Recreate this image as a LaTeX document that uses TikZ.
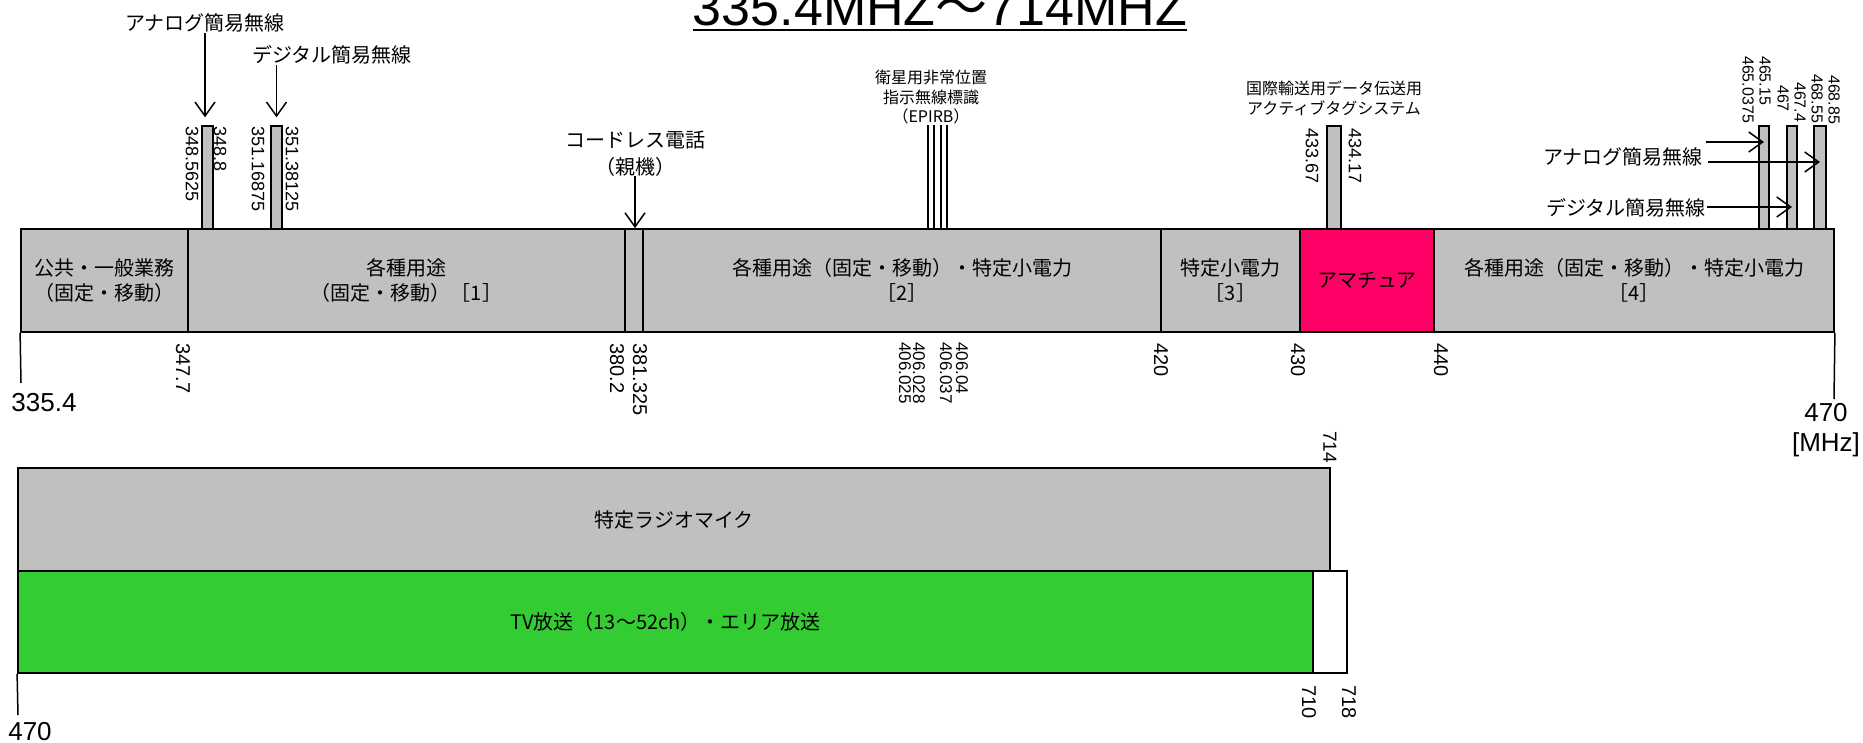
\documentclass[tikz,border=0pt]{standalone}
\usepackage{fontspec}
\setmainfont{Liberation Sans}
\newfontfamily\jp{Noto Sans CJK JP}
\usetikzlibrary{arrows.meta}
\definecolor{bandgrey}{HTML}{C0C0C0}
\definecolor{amateur}{HTML}{FF0066}
\definecolor{tvgreen}{HTML}{33CC33}
\begin{document}
\begin{tikzpicture}[x=1pt,y=-1pt,
  band/.style={draw, line width=1.8pt, fill=bandgrey, inner sep=0pt, minimum height=103pt, align=center, font=\jp\fontsize{20pt}{25pt}\selectfont},
  spike/.style={draw, line width=1.4pt, fill=bandgrey, inner sep=0pt, minimum height=103pt},
  jlab/.style={inner sep=0pt, align=center, font=\jp\fontsize{20pt}{27pt}\selectfont},
  slab/.style={inner sep=0pt, align=center, font=\jp\fontsize{16pt}{19.5pt}\selectfont},
  vnum/.style={rotate=-90, anchor=west, inner sep=0pt, font=\fontsize{18pt}{18pt}\selectfont},
  vnums/.style={vnum, font=\fontsize{16pt}{16pt}\selectfont},
  vnumb/.style={vnum, font=\fontsize{20pt}{20pt}\selectfont},
  vnumm/.style={vnum, font=\fontsize{17pt}{17pt}\selectfont},
  numbig/.style={inner sep=0pt, font=\fontsize{26pt}{26pt}\selectfont},
  tick/.style={line width=1.5pt},
  thin/.style={line width=1.3pt},
  arr/.style={line width=1.5pt, -{Straight Barb[length=14pt,width=20pt]}}
]
\useasboundingbox (0,0) rectangle (1863,742);

% title
\node[anchor=base, inner sep=0pt, font=\fontsize{52pt}{52pt}\selectfont] (title) at (940,25) {335.4MHZ{\jp ～}714MHZ};
\draw[line width=2.5pt] ([yshift=-5pt]title.base west) -- ([yshift=-5pt]title.base east);

% spikes
\node[spike, minimum width=11pt] (s1) at (207.5,177.5) {};
\node[spike, minimum width=11pt] (s2) at (276.5,177.5) {};
\node[spike, minimum width=14pt] (s3) at (1334,177.5) {};
\node[spike, minimum width=10pt] (s4) at (1764,177.5) {};
\node[spike, minimum width=10pt] (s5) at (1792,177.5) {};
\node[spike, minimum width=12pt] (s6) at (1820,177.5) {};

% EPIRB lines
\draw[thin] (928,125) -- (928,229);
\draw[thin] (934,125) -- (934,229);
\draw[thin] (941,125) -- (941,229);
\draw[thin] (947,125) -- (947,229);

% main band
\node[band, minimum width=167pt] (a) at (104.5,280.5) {公共・一般業務\\（固定・移動）};
\node[band, minimum width=437pt] (b) at (406.5,280.5) {各種用途\\（固定・移動）［1］};
\node[band, minimum width=18pt] (c) at (634,280.5) {};
\node[band, minimum width=518pt] (d) at (902,280.5) {各種用途（固定・移動）・特定小電力\\［2］};
\node[band, minimum width=139pt] (e) at (1230.5,280.5) {特定小電力\\［3］};
\node[band, minimum width=134pt, fill=amateur] (f) at (1367,280.5) {アマチュア};
\node[band, minimum width=400pt] (g) at (1634,280.5) {各種用途（固定・移動）・特定小電力\\［4］};

% top labels and arrows
\node[jlab] (la1) at (205,23) {アナログ簡易無線};
\node[jlab] (la2) at (332,55) {デジタル簡易無線};
\draw[arr, shorten >=8pt] (la1.south) -- (la1.south |- s1.north);
\draw[arr, shorten >=8pt] (s2.north |- la2.south) -- (s2.north);
\node[jlab] (lc) at (635,153.5) {コードレス電話\\（親機）};
\draw[arr] (lc.south) -- (lc.south |- c.north);
\node[slab] (lep) at (931,97.5) {衛星用非常位置\\指示無線標識\\（EPIRB）};
\node[slab, font=\jp\fontsize{16pt}{20pt}\selectfont] (ltag) at (1334,98) {国際輸送用データ伝送用\\アクティブタグシステム};
\node[jlab] (lra) at (1623,157) {アナログ簡易無線};
\node[jlab] (lrd) at (1626,208) {デジタル簡易無線};
\coordinate (r1) at (1706,142);
\coordinate (r2) at (1708,162);
\coordinate (r3) at (1707,207);
\draw[arr] (r1) -- (r1 -| s4.center);
\draw[arr] (r2) -- (r2 -| s6.center);
\draw[arr] (r3) -- (r3 -| s5.center);

% vertical numbers, top
\node[vnum] (v1) at (192,126) {348.5625};
\node[vnum] (v2) at (220,126) {348.8};
\node[vnum] (v3) at (258,126) {351.16875};
\node[vnum] (v4) at (292,126) {351.38125};
\node[vnum] (v5) at (1312,128) {433.67};
\node[vnum] (v6) at (1355,128) {434.17};
\node[vnums] (v7) at (1748,56) {465.0375};
\node[vnums] (v8) at (1765,56) {465.15};
\node[vnums] (v9) at (1783,85) {467};
\node[vnums] (v10) at (1800,82) {467.4};
\node[vnums] (v11) at (1817,74) {468.55};
\node[vnums] (v12) at (1834,75) {468.85};

% vertical numbers, bottom
\node[vnumb] (w1) at (183,343) {347.7};
\node[vnumb] (w2) at (617,343) {380.2};
\node[vnumb] (w3) at (640,343) {381.325};
\node[vnumm] (w4) at (905,342) {406.025};
\node[vnumm] (w5) at (919,342) {406.028};
\node[vnumm] (w6) at (946,342) {406.037};
\node[vnumm] (w7) at (962,342) {406.04};
\node[vnumb] (w8) at (1161,343) {420};
\node[vnumb] (w9) at (1298,343) {430};
\node[vnumb] (w10) at (1441,343) {440};

% end ticks
\coordinate (t1) at (21,383);
\draw[tick] (a.south west) -- (t1);
\node[numbig] (n3354) at (44,403) {335.4};
\coordinate (t2) at (1834,399);
\draw[tick] (g.south east) -- (t2);
\node[numbig] (n470a) at (1826,413) {470};
\node[numbig] (nmhz) at (1826,445) {[MHz]};

% lower bands
\node[band, minimum width=1312pt] (mic) at (674,519.5) {特定ラジオマイク};
\node[band, fill=tvgreen, minimum width=1295pt, minimum height=102pt] (tv) at (665.5,622) {TV放送（13～52ch）・エリア放送};
\node[band, fill=white, minimum width=34pt, minimum height=102pt] (guard) at (1330,622) {};
\node[vnum, font=\fontsize{19pt}{19pt}\selectfont] (u1) at (1330,431) {714};
\node[vnumb] (u2) at (1309,685) {710};
\node[vnumb] (u3) at (1349,685) {718};
\coordinate (t3) at (18,715);
\draw[tick] (tv.south west) -- (t3);
\node[numbig] (n470b) at (30,732) {470};
\end{tikzpicture}
\end{document}
